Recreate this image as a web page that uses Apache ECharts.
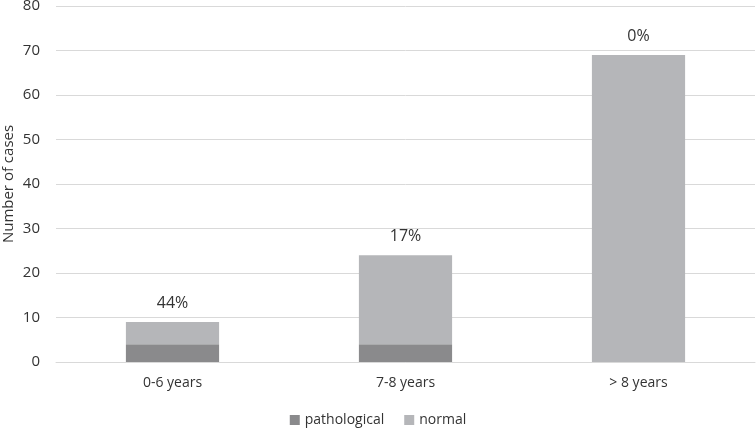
<!DOCTYPE html>
<html><head><meta charset="utf-8">
<script src="https://cdn.jsdelivr.net/npm/echarts@6/dist/echarts.min.js"></script>
<style>html,body{margin:0;padding:0;background:#fff}#c{width:756px;height:429px}</style>
</head><body><div id="c"></div>
<script>
const categories = ['0-6 years', '7-8 years', '> 8 years'];
const pathological = [4, 4, 0];
const normal = [5, 20, 69];
const percentLabels = ['44%', '17%', '0%'];
const yTicks = {min: 0, max: 80, interval: 10};

const chart = echarts.init(document.getElementById('c'));
const font = 'Open Sans, Liberation Sans, sans-serif';
chart.setOption({
  animation: false,
  textStyle: {fontFamily: font},
  grid: {left: 56, right: 1, top: 6, bottom: 67, containLabel: false, outerBoundsMode: 'none'},
  legend: {
    top: 408, left: 'center', itemWidth: 10, itemHeight: 10, itemGap: 20,
    icon: 'rect',
    textStyle: {fontSize: 14, color: '#333', fontFamily: font},
    data: ['pathological', 'normal']
  },
  xAxis: {
    type: 'category', data: categories,
    axisLine: {lineStyle: {color: '#d9d9d9'}},
    axisTick: {show: false},
    axisLabel: {fontSize: 14, color: '#333', margin: 14, fontFamily: font}
  },
  yAxis: {
    type: 'value', min: yTicks.min, max: yTicks.max, interval: yTicks.interval,
    name: 'Number of cases', nameLocation: 'middle', nameGap: 47, nameRotate: 90,
    nameMoveOverlap: false,
    nameTextStyle: {fontSize: 15, color: '#333', fontFamily: font, verticalAlign: 'middle'},
    axisLine: {show: false}, axisTick: {show: false},
    axisLabel: {fontSize: 15, color: '#333', margin: 16, fontFamily: font},
    splitLine: {lineStyle: {color: '#d9d9d9'}}
  },
  series: [
    {name: 'pathological', type: 'bar', stack: 'a', data: pathological, barWidth: '40%',
     itemStyle: {color: '#8a8a8c'}},
    {name: 'normal', type: 'bar', stack: 'a', data: normal, barWidth: '40%',
     itemStyle: {color: '#b5b6b9'},
     label: {show: true, position: 'top', distance: 11, fontSize: 16, color: '#333', fontFamily: font,
       formatter: p => percentLabels[p.dataIndex]}}
  ]
});
</script></body></html>
